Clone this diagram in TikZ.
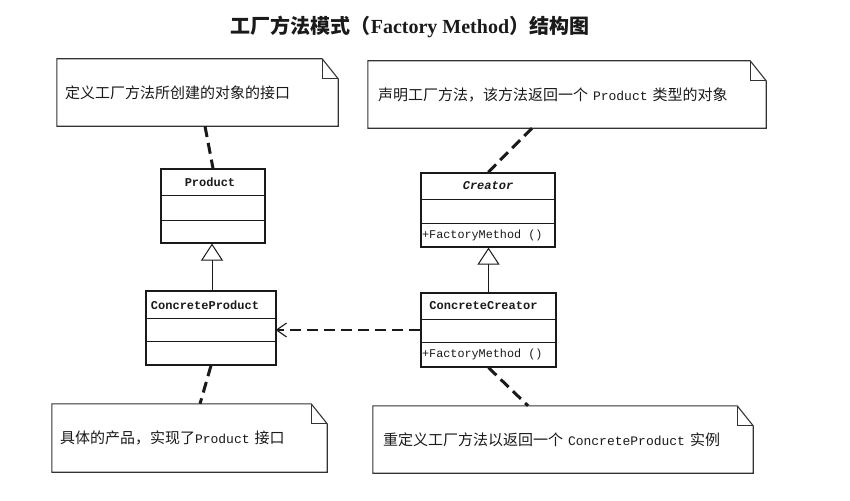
\documentclass[tikz,border=0pt]{standalone}
\usepackage{fontspec}
\setmainfont{Liberation Serif}
\newfontfamily\cjk{Noto Sans CJK SC}
\newfontfamily\mono{Liberation Mono}
\usetikzlibrary{arrows.meta,calc}
\definecolor{ink}{HTML}{1A1A1A}
\definecolor{noteink}{HTML}{333333}
\newcommand\notefold[1]{%
  \draw[noteline] (#1.north west) -- ([xshift=-16pt]#1.north east) -- ([yshift=-20pt]#1.north east) -- (#1.south east) -- (#1.south west) -- cycle;
  \draw[noteline] ([xshift=-16pt]#1.north east) -- ([xshift=-16pt,yshift=-20pt]#1.north east) -- ([yshift=-20pt]#1.north east);}
\newcommand\lat[1]{{\mono\fontsize{13pt}{14pt}\selectfont #1}}
\begin{document}
\begin{tikzpicture}[x=1pt,y=-1pt,
  noteline/.style={draw=noteink,line width=1.1pt,line join=miter},
  notebox/.style={inner ysep=0pt,align=left,text=ink,font=\cjk\fontsize{15pt}{18pt}\selectfont},
  classbox/.style={draw=ink,line width=1.2pt,inner sep=0pt},
  divider/.style={draw=ink,line width=1.1pt},
  clsname/.style={text=ink,inner sep=0pt,font=\mono\bfseries\fontsize{12pt}{14pt}\selectfont},
  clsmethod/.style={text=ink,inner sep=0pt,anchor=west,font=\mono\fontsize{11.8pt}{14pt}\selectfont},
  notelink/.style={draw=ink,line width=3pt,dash pattern=on 11pt off 6pt},
  deplink/.style={draw=ink,line width=2.6pt,dash pattern=on 11pt off 6pt},
  genlink/.style={draw=ink,line width=1pt,-{Triangle[open,length=17pt,width=22pt,line width=1pt,fill=white]}}
]
\useasboundingbox[fill=white] (0,0) rectangle (850,500);

% title
\node[text=ink,inner sep=0pt] (title) at (410,27)
  {\cjk\bfseries\fontsize{20pt}{24pt}\selectfont 工厂方法模式（{\rmfamily\bfseries Factory Method}）结构图};

% notes
\node[notebox,minimum width=281pt,minimum height=67pt,inner xsep=8pt,text width=265pt] (n1) at (197.5,92.5)
  {\raisebox{-3pt}{定义工厂方法所创建的对象的接口}};
\notefold{n1}
\node[notebox,minimum width=398pt,minimum height=67pt,inner xsep=10pt,text width=378pt] (n2) at (567,94.5)
  {声明工厂方法，该方法返回一个\lat{ Product }类型的对象};
\notefold{n2}
\node[notebox,minimum width=275pt,minimum height=68pt,inner xsep=8pt,text width=259pt] (n3) at (189.5,438)
  {\raisebox{-2pt}{具体的产品，实现了\lat{Product }接口}};
\notefold{n3}
\node[notebox,minimum width=380pt,minimum height=67pt,inner xsep=10pt,text width=360pt] (n4) at (563,439.5)
  {\raisebox{-2pt}{重定义工厂方法以返回一个\lat{ ConcreteProduct }实例}};
\notefold{n4}

% classes
\node[classbox,minimum width=104pt,minimum height=74pt] (P) at (213,206) {};
\draw[divider] ([yshift=-27pt]P.north west) -- ([yshift=-27pt]P.north east);
\draw[divider] ([yshift=-52pt]P.north west) -- ([yshift=-52pt]P.north east);
\node[clsname] (Pn) at ($(P.north)+(-3,13.5)$) {Product};

\node[classbox,minimum width=130pt,minimum height=74pt] (CP) at (211,328) {};
\draw[divider] ([yshift=-28pt]CP.north west) -- ([yshift=-28pt]CP.north east);
\draw[divider] ([yshift=-51pt]CP.north west) -- ([yshift=-51pt]CP.north east);
\node[clsname] (CPn) at ($(CP.north)+(-6,14.5)$) {ConcreteProduct};

\node[classbox,minimum width=134pt,minimum height=74pt] (Cr) at (488,210) {};
\draw[divider] ([yshift=-27pt]Cr.north west) -- ([yshift=-27pt]Cr.north east);
\draw[divider] ([yshift=-51pt]Cr.north west) -- ([yshift=-51pt]Cr.north east);
\node[clsname,font=\mono\bfseries\itshape\fontsize{12pt}{14pt}\selectfont] (Crn) at ($(Cr.north)+(0,13.5)$) {Creator};
\node[clsmethod] (Crm) at ($(Cr.north west)+(1.5,63)$) {+FactoryMethod ()};

\node[classbox,minimum width=135pt,minimum height=74pt] (CC) at (488.5,330) {};
\draw[divider] ([yshift=-27pt]CC.north west) -- ([yshift=-27pt]CC.north east);
\draw[divider] ([yshift=-50pt]CC.north west) -- ([yshift=-50pt]CC.north east);
\node[clsname] (CCn) at ($(CC.north)+(-5,13.5)$) {ConcreteCreator};
\node[clsmethod] (CCm) at ($(CC.north west)+(1.5,62)$) {+FactoryMethod ()};

% generalizations
\draw[genlink] ([xshift=1pt]CP.north) -- ([xshift=1pt]CP.north |- P.south);
\draw[genlink] (CC.north) -- (CC.north |- Cr.south);

% dependency
\draw[deplink] (CC.west) -- (CC.west -| CP.east);
\draw[ink,line width=1.1pt] ([xshift=10pt,yshift=7pt]CC.west -| CP.east) -- (CC.west -| CP.east) -- ([xshift=10pt,yshift=-7pt]CC.west -| CP.east);

% note links
\draw[notelink] ([xshift=7.5pt]n1.south) -- (P.north);
\draw[notelink] ([xshift=-35pt]n2.south) -- (Cr.north);
\draw[notelink] (CP.south) -- ([xshift=10.5pt]n3.north);
\draw[notelink] (CC.south) -- ([xshift=-35pt]n4.north);
\end{tikzpicture}
\end{document}
